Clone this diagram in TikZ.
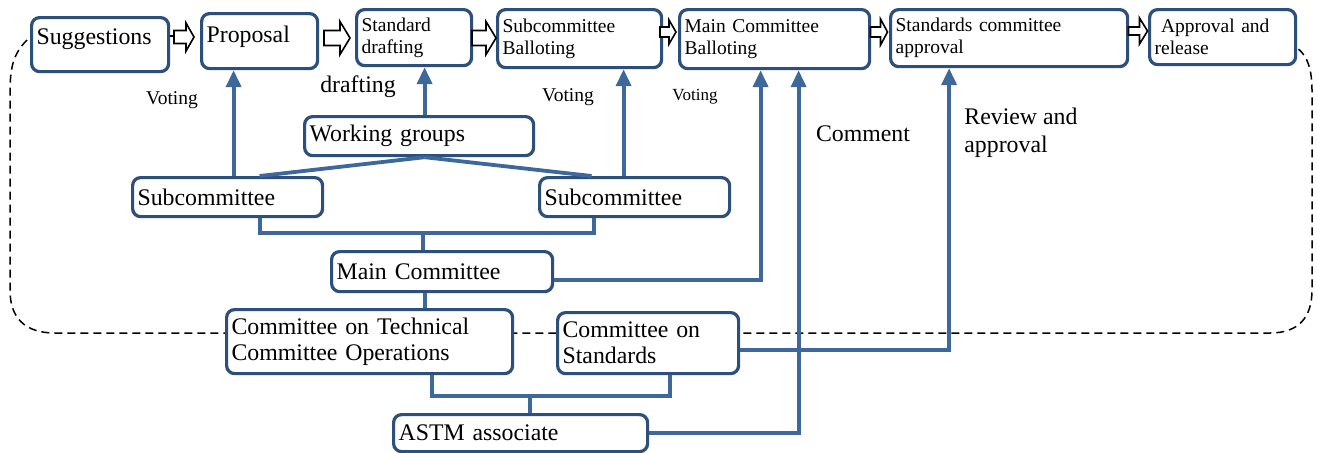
\documentclass[tikz,border=0pt]{standalone}
\usepackage{fontspec}
\setmainfont{Liberation Serif}
\usetikzlibrary{arrows.meta,calc}
\definecolor{boxc}{HTML}{2C4F7C}
\definecolor{linec}{HTML}{3E679B}
\newcommand{\blockarr}[5]{\begin{scope}[shift={#1},x=1pt,y=1pt]\draw[barr] ({-#2/2},{#4}) -- ({#2/2-#3},{#4}) -- ({#2/2-#3},{#5}) -- ({#2/2},0) -- ({#2/2-#3},{-#5}) -- ({#2/2-#3},{-#4}) -- ({-#2/2},{-#4}) -- cycle;\end{scope}}
\begin{document}
\begin{tikzpicture}[x=0.5pt,y=-0.5pt,
 box/.style={draw=boxc, line width=1.6pt, rounded corners=4pt, fill=white, anchor=north west, align=left, inner xsep=2.5pt, inner ysep=0pt},
 big/.style={font=\fontsize{11.9}{13}\selectfont},
 small/.style={font=\fontsize{9.75}{11}\selectfont},
 tiny/.style={font=\fontsize{8.5}{10}\selectfont},
 conn/.style={draw=linec, line width=1.9pt},
 arr/.style={conn, -{Triangle[width=7.5pt,length=8.5pt]}},
 barr/.style={draw=black, line width=0.8pt, fill=white},
 dsh/.style={draw=black, line width=0.75pt, dash pattern=on 4pt off 2.5pt},
 lbl/.style={inner sep=0pt}]
\useasboundingbox (0,0) rectangle (1317,452);
% dashed boundary
\draw[dsh] (27,40) .. controls (12,55) and (10,70) .. (10,95) -- (10,290) .. controls (10,318) and (25,333) .. (55,333) -- (1270,333) .. controls (1298,333) and (1312,318) .. (1312,290) -- (1312,90) .. controls (1312,65) and (1305,52) .. (1294,46);
% top row
\node[box,big,text width=63.5pt,minimum height=27pt,text depth=8pt] (sug) at (30,16) {Suggestions};
\node[box,big,text width=53pt,minimum height=27.5pt,text depth=6.5pt] (prop) at (200,12) {Proposal};
\node[box,small,text width=52.5pt,minimum height=28pt] (std) at (355,8) {Standard\\drafting};
\node[box,small,text width=77pt,minimum height=29pt] (scb) at (496,8) {Subcommittee\\Balloting};
\node[box,small,text width=90pt,minimum height=29.5pt] (mcb) at (678,8) {Main Committee\\Balloting};
\node[box,small,text width=113.5pt,minimum height=28.5pt] (sca) at (889,8) {Standards committee\\approval};
\node[box,small,text width=68pt,minimum height=27.5pt] (apr) at (1148,8) {\ Approval and\\release};
% block arrows
\draw[barr] (sug.east |- 0,36) -- (179,36);
\blockarr{(184,37)}{10}{4}{3.25}{7}
\blockarr{(337,38)}{13}{5}{3.75}{8.25}
\blockarr{(484,38)}{12}{5}{3.75}{8.25}
\blockarr{(668,32)}{8}{3.5}{2.5}{6}
\blockarr{(879,32)}{8.5}{3.5}{2.5}{6.5}
\draw[barr] (sca.east |- 0,31) -- (1132,31);
\blockarr{(1138,31)}{9.5}{4}{2}{6.5}
% lower boxes
\node[box,big,text width=109.5pt,minimum height=19.5pt] (wg) at (303,115) {Working groups};
\node[box,big,text width=90pt,minimum height=19.5pt] (sc1) at (131,176) {Subcommittee};
\node[box,big,text width=90pt,minimum height=19.5pt] (sc2) at (538,176) {Subcommittee};
\node[box,big,text width=105.5pt,minimum height=20pt] (mc) at (330,250) {Main Committee};
\node[box,big,text width=138pt,minimum height=32pt] (ctco) at (225,308) {Committee on Technical\\Committee Operations};
\node[box,big,text width=85.5pt,minimum height=30.5pt] (cos) at (556,311) {Committee on\\Standards};
\node[box,big,text width=122pt,minimum height=18.5pt] (astm) at (392,413) {ASTM associate};
% connectors
\draw[arr] ([xshift=3pt]sc1.north) -- ([xshift=3pt]sc1.north |- prop.south);
\draw[arr] ([xshift=2.75pt]wg.north) -- ([xshift=2.75pt]wg.north |- std.south);
\draw[conn] ([xshift=2.75pt]wg.south) -- ([xshift=16pt]sc1.north);
\draw[conn] ([xshift=2.75pt]wg.south) -- ([xshift=-21.5pt]sc2.north);
\draw[arr] ([xshift=-5.5pt]sc2.north) -- ([xshift=-5.5pt]sc2.north |- scb.south);
\coordinate (j1) at (423,233);
\draw[conn] ([xshift=16pt]sc1.south) |- (j1) -| ([xshift=-20.5pt]sc2.south);
\draw[conn] (j1) -- (j1 |- mc.north);
\draw[arr] ([yshift=-4pt]mc.east) -| ([xshift=-7pt]mcb.south);
\draw[conn] ([xshift=-8.75pt]mc.south) -- ([xshift=-8.75pt]mc.south |- ctco.north);
\draw[arr] ([yshift=-3.25pt]cos.east) -| ([xshift=-30pt]sca.south);
\coordinate (j2) at (530,396);
\draw[conn] ([xshift=31pt]ctco.south) |- (j2) -| ([xshift=10.75pt]cos.south);
\draw[conn] (j2) -- (j2 |- astm.north);
\draw[arr] (astm.east) -| ([xshift=12pt]mcb.south);
% labels
\node[lbl,small] (v1) at (172,100) {Voting};
\node[lbl,big] (dr) at (358,87) {drafting};
\node[lbl,small] (v2) at (568,97) {Voting};
\node[lbl,tiny] (v3) at (695,97) {Voting};
\node[lbl,big] (cm) at (863,134) {Comment};
\node[lbl,big,anchor=north west,align=left,font=\fontsize{11.9}{14}\selectfont] (ra) at (964,108) {Review and\\approval};
\end{tikzpicture}
\end{document}
